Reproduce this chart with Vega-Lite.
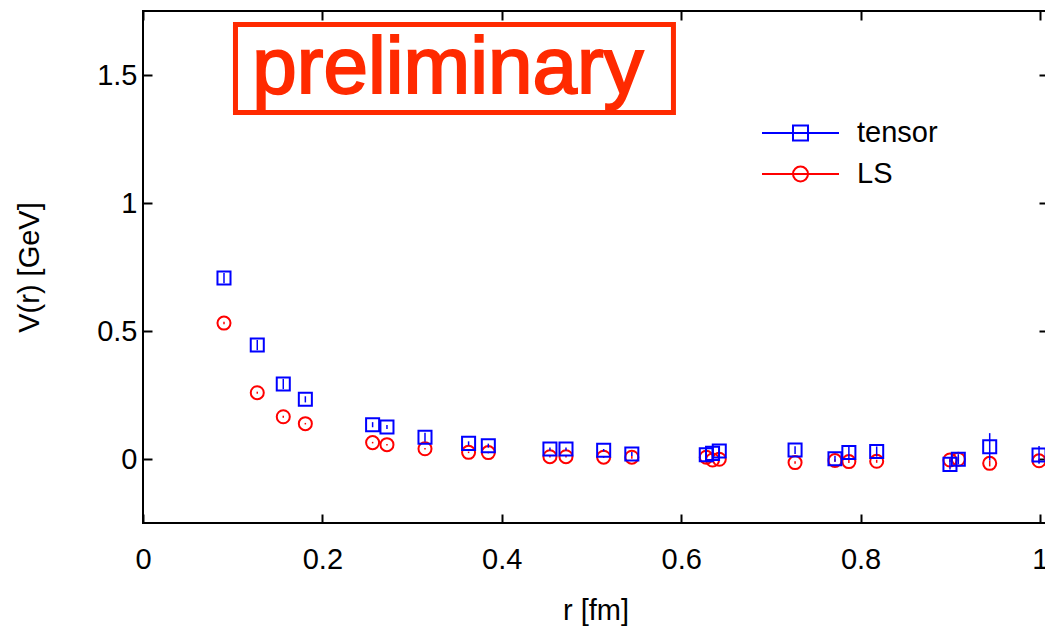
{
  "$schema": "https://vega.github.io/schema/vega-lite/v6.json",
  "width": 905,
  "height": 512,
  "autosize": {"type": "none"},
  "padding": {"left": 143, "top": 11, "right": 0, "bottom": 105},
  "background": "white",
  "config": {
    "font": "Liberation Sans",
    "view": {"stroke": "black", "strokeWidth": 2},
    "axis": {
      "domain": false,
      "grid": false,
      "tickColor": "black",
      "tickWidth": 2,
      "tickSize": -9,
      "labelFlush": false,
      "labelFont": "Liberation Sans",
      "labelFontSize": 29,
      "labelColor": "black",
      "titleFont": "Liberation Sans",
      "titleFontSize": 29,
      "titleFontWeight": "normal",
      "titleColor": "black"
    },
    "legend": {
      "orient": "none",
      "legendX": 618,
      "padding": 0,
      "labelFont": "Liberation Sans",
      "labelFontSize": 29,
      "labelColor": "black",
      "symbolSize": 5929,
      "symbolStrokeWidth": 2,
      "labelOffset": 17
    }
  },
  "datasets": {
    "pot": [
      {"series": "tensor", "r": 0.0903, "V": 0.707, "err": 0.02},
      {"series": "tensor", "r": 0.1274, "V": 0.445, "err": 0.02},
      {"series": "tensor", "r": 0.1564, "V": 0.293, "err": 0.02},
      {"series": "tensor", "r": 0.181, "V": 0.233, "err": 0.012},
      {"series": "tensor", "r": 0.256, "V": 0.134, "err": 0.01},
      {"series": "tensor", "r": 0.272, "V": 0.125, "err": 0.008},
      {"series": "tensor", "r": 0.3144, "V": 0.085, "err": 0.018},
      {"series": "tensor", "r": 0.363, "V": 0.061, "err": 0.008},
      {"series": "tensor", "r": 0.385, "V": 0.052, "err": 0.008},
      {"series": "tensor", "r": 0.4537, "V": 0.039, "err": 0.006},
      {"series": "tensor", "r": 0.4716, "V": 0.039, "err": 0.006},
      {"series": "tensor", "r": 0.5136, "V": 0.034, "err": 0.005},
      {"series": "tensor", "r": 0.545, "V": 0.0195, "err": 0.008},
      {"series": "tensor", "r": 0.628, "V": 0.017, "err": 0.02},
      {"series": "tensor", "r": 0.635, "V": 0.022, "err": 0.02},
      {"series": "tensor", "r": 0.6425, "V": 0.031, "err": 0.02},
      {"series": "tensor", "r": 0.727, "V": 0.035, "err": 0.015},
      {"series": "tensor", "r": 0.7715, "V": 0.001, "err": 0.012},
      {"series": "tensor", "r": 0.787, "V": 0.025, "err": 0.026},
      {"series": "tensor", "r": 0.818, "V": 0.029, "err": 0.02},
      {"series": "tensor", "r": 0.8997, "V": -0.021, "err": 0.02},
      {"series": "tensor", "r": 0.909, "V": -0.001, "err": 0.02},
      {"series": "tensor", "r": 0.944, "V": 0.048, "err": 0.053},
      {"series": "tensor", "r": 0.999, "V": 0.016, "err": 0.035},
      {"series": "LS", "r": 0.0903, "V": 0.531, "err": 0.005},
      {"series": "LS", "r": 0.1274, "V": 0.259, "err": 0.004},
      {"series": "LS", "r": 0.1564, "V": 0.165, "err": 0.004},
      {"series": "LS", "r": 0.181, "V": 0.138, "err": 0.003},
      {"series": "LS", "r": 0.256, "V": 0.064, "err": 0.003},
      {"series": "LS", "r": 0.272, "V": 0.056, "err": 0.003},
      {"series": "LS", "r": 0.3144, "V": 0.04, "err": 0.003},
      {"series": "LS", "r": 0.363, "V": 0.026, "err": 0.003},
      {"series": "LS", "r": 0.385, "V": 0.025, "err": 0.003},
      {"series": "LS", "r": 0.4537, "V": 0.009, "err": 0.003},
      {"series": "LS", "r": 0.4716, "V": 0.009, "err": 0.003},
      {"series": "LS", "r": 0.5136, "V": 0.007, "err": 0.003},
      {"series": "LS", "r": 0.545, "V": 0.007, "err": 0.006},
      {"series": "LS", "r": 0.628, "V": 0.007, "err": 0.005},
      {"series": "LS", "r": 0.635, "V": -0.004, "err": 0.006},
      {"series": "LS", "r": 0.6425, "V": -0.001, "err": 0.006},
      {"series": "LS", "r": 0.727, "V": -0.014, "err": 0.005},
      {"series": "LS", "r": 0.7715, "V": -0.006, "err": 0.005},
      {"series": "LS", "r": 0.787, "V": -0.01, "err": 0.006},
      {"series": "LS", "r": 0.818, "V": -0.009, "err": 0.006},
      {"series": "LS", "r": 0.8997, "V": -0.004, "err": 0.008},
      {"series": "LS", "r": 0.909, "V": -0.001, "err": 0.008},
      {"series": "LS", "r": 0.944, "V": -0.017, "err": 0.012},
      {"series": "LS", "r": 0.999, "V": -0.007, "err": 0.008}
    ],
    "box": [{"x1": 0.1031, "x2": 0.5914, "y1": 1.697, "y2": 1.3535}],
    "note": [{"x": 0.34, "y": 1.43, "label": "preliminary"}]
  },
  "resolve": {"axis": {"x": "independent", "y": "independent"}},
  "layer": [
    {
      "mark": {"type": "rule", "color": "#b4b4b4", "strokeWidth": 2, "strokeDash": [5, 6]},
      "encoding": {"y": {"datum": 0, "type": "quantitative", "axis": null}}
    },
    {
      "data": {"name": "box"},
      "mark": {"type": "rect", "fill": null, "fillOpacity": 0, "stroke": "#ff2a00", "strokeWidth": 5},
      "encoding": {
        "x": {"field": "x1", "type": "quantitative", "axis": null},
        "x2": {"field": "x2"},
        "y": {"field": "y1", "type": "quantitative", "axis": null},
        "y2": {"field": "y2"}
      }
    },
    {
      "data": {"name": "note"},
      "mark": {"type": "text", "color": "#ff2a00", "stroke": "#ff2a00", "strokeWidth": 2, "fontSize": 80, "font": "Liberation Sans", "align": "center", "baseline": "alphabetic"},
      "encoding": {
        "x": {"field": "x", "type": "quantitative", "axis": null},
        "y": {"field": "y", "type": "quantitative", "axis": null},
        "text": {"field": "label"}
      }
    },
    {
      "data": {"name": "pot"},
      "mark": {"type": "point", "opacity": 0},
      "encoding": {
        "x": {"field": "r", "type": "quantitative", "axis": {"orient": "top", "labels": false, "title": null, "values": [0, 0.2, 0.4, 0.6, 0.8, 1]}},
        "y": {"field": "V", "type": "quantitative", "axis": {"orient": "right", "labels": false, "title": null, "values": [0, 0.5, 1, 1.5]}}
      }
    },
    {
      "data": {"name": "pot"},
      "transform": [{"filter": "datum.series === 'LS'"}],
      "mark": {"type": "errorbar", "thickness": 1.5, "ticks": false, "color": "#ff0000"},
      "encoding": {
        "x": {"field": "r", "type": "quantitative", "axis": null},
        "y": {"field": "V", "type": "quantitative", "axis": null},
        "yError": {"field": "err"}
      }
    },
    {
      "data": {"name": "pot"},
      "transform": [{"filter": "datum.series === 'LS'"}],
      "mark": {"type": "point", "shape": "circle", "filled": false, "size": 170, "strokeWidth": 2, "opacity": 1},
      "encoding": {
        "x": {"field": "r", "type": "quantitative", "axis": null},
        "y": {"field": "V", "type": "quantitative", "axis": null},
        "stroke": {
          "field": "series", "type": "nominal",
          "scale": {"domain": ["LS"], "range": ["#ff0000"]},
          "legend": {
            "title": null,
            "legendY": 123.5,
            "symbolType": "M-1,0H1M0.195,0A0.195,0.195,0,1,1,-0.195,0A0.195,0.195,0,1,1,0.195,0",
            "symbolFillColor": "transparent"
          }
        }
      }
    },
    {
      "data": {"name": "pot"},
      "transform": [{"filter": "datum.series === 'tensor'"}],
      "mark": {"type": "errorbar", "thickness": 1.5, "ticks": false, "color": "#0000ff"},
      "encoding": {
        "x": {"field": "r", "type": "quantitative", "axis": null},
        "y": {"field": "V", "type": "quantitative", "axis": null},
        "yError": {"field": "err"}
      }
    },
    {
      "data": {"name": "pot"},
      "transform": [{"filter": "datum.series === 'tensor'"}],
      "mark": {"type": "point", "shape": "square", "filled": false, "size": 170, "strokeWidth": 2, "opacity": 1},
      "encoding": {
        "x": {
          "field": "r", "type": "quantitative",
          "scale": {"domain": [0, 1.009], "nice": false, "zero": false},
          "axis": {"orient": "bottom", "title": "r [fm]", "values": [0, 0.2, 0.4, 0.6, 0.8, 1], "format": "~g", "labelPadding": 31, "titlePadding": 22}
        },
        "y": {
          "field": "V", "type": "quantitative",
          "scale": {"domain": [-0.25, 1.75], "nice": false, "zero": false},
          "axis": {"orient": "left", "title": "V(r) [GeV]", "values": [0, 0.5, 1, 1.5], "format": "~g", "labelPadding": 15, "titlePadding": 52}
        },
        "color": {
          "field": "series", "type": "nominal",
          "scale": {"domain": ["tensor"], "range": ["#0000ff"]},
          "legend": {
            "title": null,
            "legendY": 82.5,
            "symbolType": "M-1,0H1M-0.195,-0.195H0.195V0.195H-0.195Z",
            "symbolFillColor": "transparent"
          }
        }
      }
    }
  ]
}
